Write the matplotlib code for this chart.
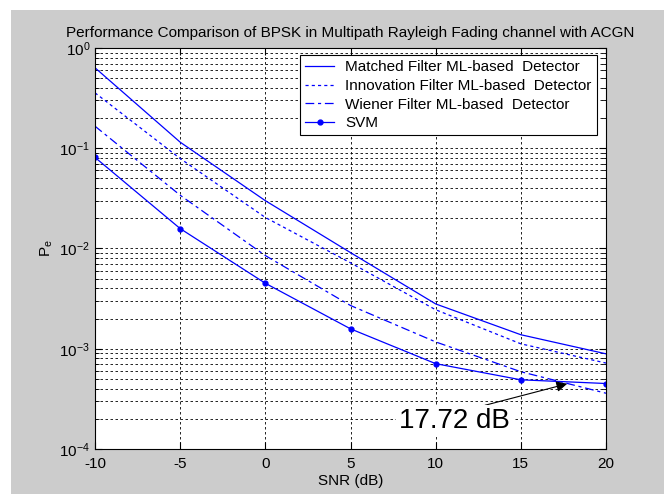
import numpy as np
import matplotlib
matplotlib.use("Agg")
from matplotlib import pyplot as plt
from matplotlib.patches import Rectangle

# --- datos ---
snr = [-10, -5, 0, 5, 10, 15, 20]
matched = [0.635, 0.115, 0.0300, 0.0091, 0.0028, 0.00138, 0.00089]
innovation = [0.357, 0.079, 0.0204, 0.0072, 0.00245, 0.00112, 0.00072]
wiener = [0.166, 0.034, 0.0085, 0.0027, 0.00117, 0.00059, 0.00036]
svm = [0.081, 0.0158, 0.0045, 0.00158, 0.00071, 0.00049, 0.00045]

etiquetas = ["Matched Filter ML-based  Detector",
             "Innovation Filter ML-based  Detector",
             "Wiener Filter ML-based  Detector",
             "SVM"]

punto_x = 17.72
punto_y = 4.47e-4

plt.rcParams['font.family'] = ['Liberation Sans', 'DejaVu Sans']
plt.rcParams['mathtext.fontset'] = 'custom'
plt.rcParams['mathtext.rm'] = 'Liberation Sans'
plt.rcParams['mathtext.it'] = 'Liberation Sans:italic'
plt.rcParams['axes.unicode_minus'] = False

fig = plt.figure(figsize=(6.64, 4.94), dpi=100, facecolor='white')
# fondo gris de la ventana (con borde blanco arriba e izquierda)
fig.patches.append(Rectangle((11 / 664, 0), 1, 1 - 10 / 494, transform=fig.transFigure,
                             facecolor='#cccccc', edgecolor='none', zorder=-10))

ax = fig.add_axes([95 / 664, 45 / 494, 511 / 664, 401 / 494])
ax.set_facecolor('white')

ax.semilogy(snr, matched, '-', color='blue', lw=0.9, label=etiquetas[0])
ax.semilogy(snr, innovation, ls=(0, (2.5, 2.5)), color='blue', lw=0.9, label=etiquetas[1])
ax.semilogy(snr, wiener, ls=(0, (7, 3, 2.5, 3)), color='blue', lw=0.9, label=etiquetas[2])
ax.semilogy(snr, svm, '.-', color='blue', lw=0.9, ms=7, label=etiquetas[3])

ax.set_xlim(-10, 20)
ax.set_ylim(1e-4, 1)
ax.set_xticks([-10, -5, 0, 5, 10, 15, 20])

ax.grid(True, which='major', axis='both', color='black', ls=(0, (3, 3)), lw=0.6)
ax.grid(True, which='minor', axis='y', color='black', ls=(0, (3, 3)), lw=0.6)
ax.tick_params(which='both', direction='in', top=True, right=True, labelsize=11)
ax.tick_params(which='major', length=5)
ax.tick_params(which='minor', length=3)
ax.tick_params(axis='x', pad=6)
for s in ax.spines.values():
    s.set_linewidth(0.8)

ax.set_title("Performance Comparison of BPSK in Multipath Rayleigh Fading channel with ACGN",
             fontsize=11, pad=8)
ax.set_xlabel("SNR (dB)", fontsize=11, labelpad=2)
ax.set_ylabel(r"P$_\mathrm{e}$", fontsize=11, labelpad=3)

ax.annotate("17.72 dB", xy=(punto_x, punto_y), xytext=(11.1, 1.9e-4),
            fontsize=20, ha='center', va='center',
            bbox=dict(boxstyle='square,pad=0.1', fc='white', ec='none'),
            arrowprops=dict(arrowstyle='-|>', color='black', lw=0.8,
                            mutation_scale=16, shrinkA=0, shrinkB=0,
                            relpos=(0.68, 1.0)))

leg = ax.legend(loc='upper right', bbox_to_anchor=(0.982, 0.9825), borderaxespad=0,
                fontsize=11, fancybox=False, framealpha=1, edgecolor='black',
                handlelength=1.9, labelspacing=0.3, borderpad=0.35, handletextpad=0.7)
leg.get_frame().set_linewidth(0.8)

fig.savefig("out.png", dpi=100, facecolor=fig.get_facecolor())
